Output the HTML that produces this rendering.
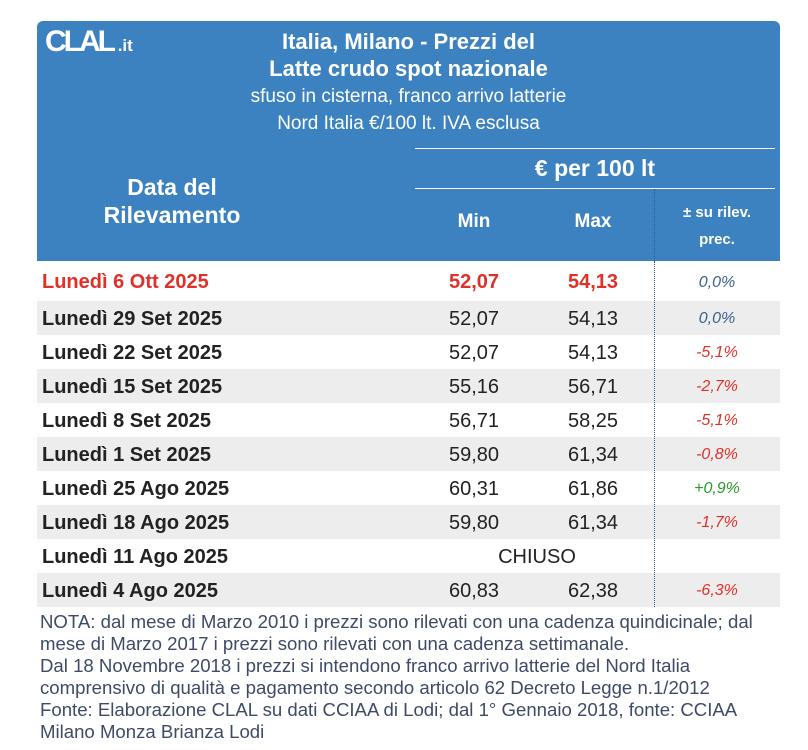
<!DOCTYPE html>
<html><head><meta charset="utf-8"><style>
body{margin:0;width:808px;height:750px;background:#fff;font-family:"Liberation Sans",sans-serif;position:relative;overflow:hidden}
.hd{position:absolute;left:37px;top:21px;width:743px;height:240px;background:#3c82c0;border-radius:6px 6px 0 0;color:#fff}
.t{position:absolute;left:0;width:100%;text-align:center}
.abs{position:absolute}
.row{position:absolute;left:37px;width:743px;height:34px;font-size:20px;color:#222}
.row span{position:absolute;top:7px}
.d{left:5px;font-weight:bold}
.mn{left:397px;width:80px;text-align:center}
.mx{left:516px;width:80px;text-align:center}
.p{left:640px;width:80px;text-align:center;font-style:italic;font-size:16px;top:9px!important}
.g{background:#ededed}
.note{position:absolute;left:40px;top:611px;width:760px;font-size:18.6px;line-height:22px;color:#3e4a66;white-space:nowrap}
</style></head><body>
<div class="hd">
 <div class="abs" style="left:8px;top:4px;font-size:30px;font-weight:bold;letter-spacing:-3px">CLAL<span style="font-size:17px;letter-spacing:0"> .it</span></div>
 <div class="t" style="top:8px;font-size:22px;font-weight:bold">Italia, Milano - Prezzi del</div>
 <div class="t" style="top:35px;font-size:22px;font-weight:bold">Latte crudo spot nazionale</div>
 <div class="t" style="top:65px;font-size:19px">sfuso in cisterna, franco arrivo latterie</div>
 <div class="t" style="top:92px;font-size:19px">Nord Italia €/100 lt. IVA esclusa</div>
 <div class="abs" style="left:378px;top:127px;width:360px;border-top:1px solid #fff"></div>
 <div class="abs" style="left:378px;top:167px;width:360px;border-top:1px solid #fff"></div>
 <div class="abs" style="left:378px;top:134px;width:360px;text-align:center;font-size:23px;font-weight:bold">€ per 100 lt</div>
 <div class="abs" style="left:20px;top:152px;width:230px;text-align:center;font-size:23px;font-weight:bold;line-height:28px">Data del<br>Rilevamento</div>
 <div class="abs" style="left:397px;top:190px;width:80px;text-align:center;font-size:19px;font-weight:bold">Min</div>
 <div class="abs" style="left:516px;top:190px;width:80px;text-align:center;font-size:19px;font-weight:bold">Max</div>
 <div class="abs" style="left:617px;top:168px;height:72px;border-left:1px dotted #2a5d8f"></div>
 <div class="abs" style="left:620px;top:178px;width:120px;text-align:center;font-size:15px;font-weight:bold;line-height:27px">± su rilev.<br>prec.</div>
</div>
<div class="row" style="top:261px;height:40px;color:#e0302a;font-weight:bold"><span class="d" style="top:10px">Lunedì 6 Ott 2025</span><span class="mn" style="top:10px;font-weight:bold">52,07</span><span class="mx" style="top:10px;font-weight:bold">54,13</span><span class="p" style="top:13px!important;color:#3a5f8f;font-weight:normal">0,0%</span></div>
<div class="row g" style="top:301px"><span class="d">Lunedì 29 Set 2025</span><span class="mn">52,07</span><span class="mx">54,13</span><span class="p" style="color:#3a5f8f">0,0%</span></div>
<div class="row" style="top:335px"><span class="d">Lunedì 22 Set 2025</span><span class="mn">52,07</span><span class="mx">54,13</span><span class="p" style="color:#e0302a">-5,1%</span></div>
<div class="row g" style="top:369px"><span class="d">Lunedì 15 Set 2025</span><span class="mn">55,16</span><span class="mx">56,71</span><span class="p" style="color:#e0302a">-2,7%</span></div>
<div class="row" style="top:403px"><span class="d">Lunedì 8 Set 2025</span><span class="mn">56,71</span><span class="mx">58,25</span><span class="p" style="color:#e0302a">-5,1%</span></div>
<div class="row g" style="top:437px"><span class="d">Lunedì 1 Set 2025</span><span class="mn">59,80</span><span class="mx">61,34</span><span class="p" style="color:#e0302a">-0,8%</span></div>
<div class="row" style="top:471px"><span class="d">Lunedì 25 Ago 2025</span><span class="mn">60,31</span><span class="mx">61,86</span><span class="p" style="color:#2a9a2a">+0,9%</span></div>
<div class="row g" style="top:505px"><span class="d">Lunedì 18 Ago 2025</span><span class="mn">59,80</span><span class="mx">61,34</span><span class="p" style="color:#e0302a">-1,7%</span></div>
<div class="row" style="top:539px"><span class="d">Lunedì 11 Ago 2025</span><span style="left:440px;width:120px;text-align:center">CHIUSO</span></div>
<div class="row g" style="top:573px"><span class="d">Lunedì 4 Ago 2025</span><span class="mn">60,83</span><span class="mx">62,38</span><span class="p" style="color:#e0302a">-6,3%</span></div>
<div class="abs" style="left:654px;top:261px;height:346px;border-left:1px dotted #2a5d8f"></div>
<div class="note">NOTA: dal mese di Marzo 2010 i prezzi sono rilevati con una cadenza quindicinale; dal<br>mese di Marzo 2017 i prezzi sono rilevati con una cadenza settimanale.<br>Dal 18 Novembre 2018 i prezzi si intendono franco arrivo latterie del Nord Italia<br>comprensivo di qualità e pagamento secondo articolo 62 Decreto Legge n.1/2012<br>Fonte: Elaborazione CLAL su dati CCIAA di Lodi; dal 1° Gennaio 2018, fonte: CCIAA<br>Milano Monza Brianza Lodi</div>
</body></html>
